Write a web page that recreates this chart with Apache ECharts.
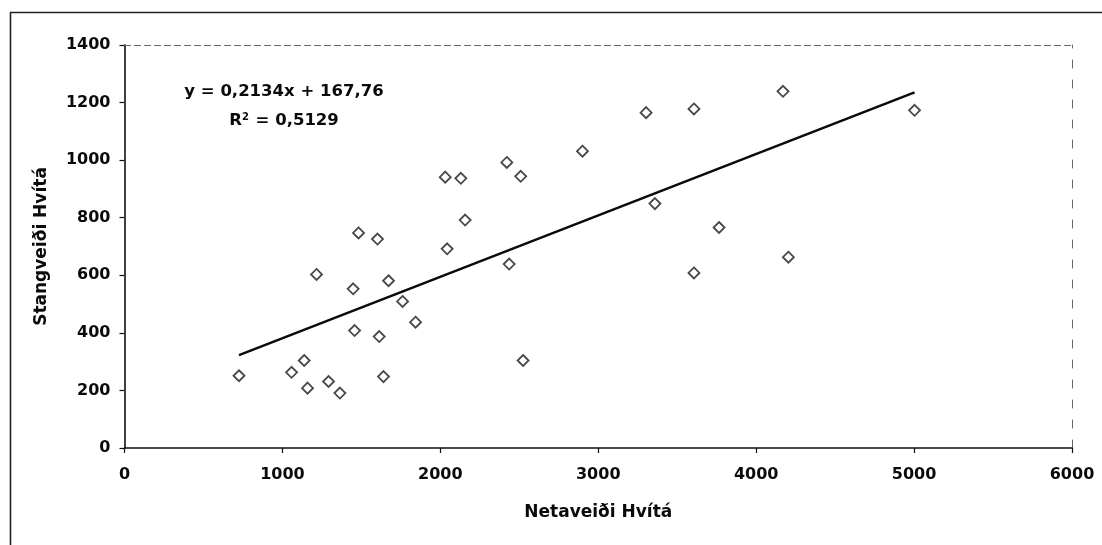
<!DOCTYPE html>
<html>
<head>
<meta charset="utf-8">
<script src="https://cdn.jsdelivr.net/npm/echarts@6/dist/echarts.min.js"></script>
<style>
  html, body { margin: 0; padding: 0; background: #fff; }
  #chart { width: 1102px; height: 545px; }
</style>
</head>
<body>
<div id="chart"></div>
<script>
// Netaveiði (net catch) Hvítá, x values
const netaveidi = [725, 1058, 1138, 1159, 1292, 1364, 1216, 1448, 1457, 1613, 1640, 1672, 1761, 1843, 1482, 1602, 2043, 2436, 2524, 2031, 2130, 2421, 2509, 2900, 2157, 3303, 3606, 4170, 5003, 3359, 3765, 4204, 3606];
// Stangveiði (rod catch) Hvítá, y values
const stangveidi = [251, 263, 304, 208, 231, 191, 603, 553, 408, 387, 248, 581, 509, 437, 747, 726, 692, 639, 304, 941, 937, 992, 944, 1031, 792, 1165, 1178, 1239, 1173, 849, 766, 663, 608];
// Trendline coefficients as printed on the chart
const slope = 0.2134;
const intercept = 167.76;
const xTicks = [0, 1000, 2000, 3000, 4000, 5000, 6000];
const yTicks = [0, 200, 400, 600, 800, 1000, 1200, 1400];

const points = netaveidi.map((x, i) => [x, stangveidi[i]]);
const xMin = Math.min(...netaveidi), xMax = Math.max(...netaveidi);
const trend = [[xMin, slope * xMin + intercept], [xMax, slope * xMax + intercept]];

const FONT = 'DejaVu Sans';
const TXT = '#0a0a0a';
const plain = v => String(v);

const chart = echarts.init(document.getElementById('chart'), null, { renderer: 'canvas' });
chart.setOption({
  backgroundColor: '#fff',
  animation: false,
  grid: { left: 124.5, right: 30, top: 45, bottom: 97, containLabel: false },
  xAxis: [{
    type: 'value', min: xTicks[0], max: xTicks[xTicks.length - 1], interval: 1000,
    name: 'Netaveiði Hvítá', nameLocation: 'middle', nameGap: 56,
    nameTextStyle: { fontFamily: FONT, fontWeight: 'bold', fontSize: 17, color: TXT },
    axisLine: { onZero: false, lineStyle: { color: '#111', width: 1.6 } },
    axisTick: { inside: false, length: 5, lineStyle: { color: '#111', width: 1.2 } },
    axisLabel: { margin: 19, fontFamily: FONT, fontWeight: 'bold', fontSize: 16, color: TXT, formatter: plain },
    splitLine: { show: false }
  }, {
    type: 'value', position: 'top', min: xTicks[0], max: xTicks[xTicks.length - 1], interval: 1000,
    axisLine: { show: true, onZero: false, lineStyle: { color: '#666', width: 1, type: [6, 4] } },
    axisTick: { show: false }, axisLabel: { show: false }, splitLine: { show: false }
  }],
  yAxis: [{
    type: 'value', min: yTicks[0], max: yTicks[yTicks.length - 1], interval: 200,
    name: 'Stangveiði Hvítá', nameLocation: 'middle', nameGap: 74, nameRotate: 90,
    nameTextStyle: { fontFamily: FONT, fontWeight: 'bold', fontSize: 17, color: TXT },
    axisLine: { show: true, onZero: false, lineStyle: { color: '#111', width: 1.6 } },
    axisTick: { show: true, inside: false, length: 5, lineStyle: { color: '#111', width: 1.2 } },
    axisLabel: { margin: 14, fontFamily: FONT, fontWeight: 'bold', fontSize: 16, color: TXT, formatter: plain },
    splitLine: { show: false }
  }, {
    type: 'value', position: 'right', min: yTicks[0], max: yTicks[yTicks.length - 1], interval: 200,
    axisLine: { show: true, onZero: false, lineStyle: { color: '#666', width: 1, type: [8, 12] } },
    axisTick: { show: false }, axisLabel: { show: false }, splitLine: { show: false }
  }],
  graphic: [
    { type: 'rect', left: 8, top: 10, silent: true, z: 0,
      shape: { width: 1100, height: 540 },
      style: { fill: 'none', stroke: '#222', lineWidth: 1.6 } },
    { type: 'text', x: 284, y: 92, z: 10,
      style: { text: 'y = 0,2134x + 167,76', fontFamily: FONT, fontWeight: 'bold', fontSize: 16.5,
               fill: TXT, align: 'center', verticalAlign: 'middle' } },
    { type: 'text', x: 284, y: 121, z: 10,
      style: { text: '{b|R}{s|2}{b| = 0,5129}', align: 'center', verticalAlign: 'middle',
               rich: {
                 b: { fontFamily: FONT, fontWeight: 'bold', fontSize: 16.5, fill: TXT, color: TXT },
                 s: { fontFamily: FONT, fontWeight: 'bold', fontSize: 10, fill: TXT, color: TXT, verticalAlign: 'top', padding: [0, 1, 8, 0] }
               } } }
  ],
  series: [{
    type: 'line', data: trend, xAxisIndex: 0, yAxisIndex: 0,
    showSymbol: false, symbol: 'none',
    lineStyle: { color: '#0a0a0a', width: 2.5 }, z: 2
  }, {
    type: 'scatter', data: points, xAxisIndex: 0, yAxisIndex: 0,
    symbol: 'diamond', symbolSize: 11,
    itemStyle: { color: '#fff', borderColor: '#1a1a1a', borderWidth: 1.8 }, z: 3
  }]
});
</script>
</body>
</html>
